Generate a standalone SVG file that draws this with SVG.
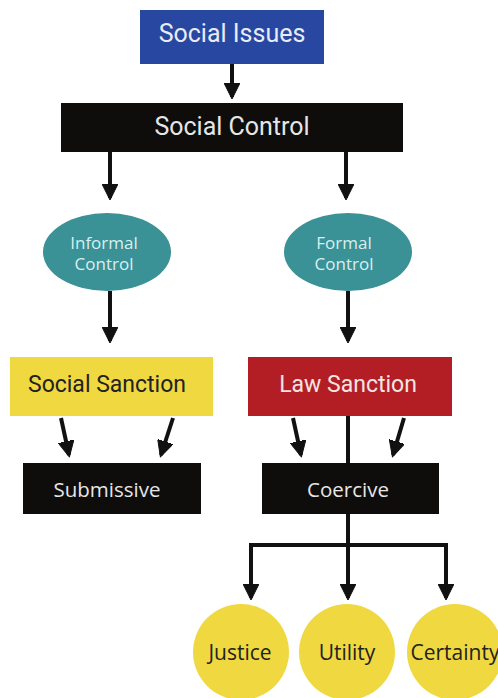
<svg xmlns="http://www.w3.org/2000/svg" width="498" height="698" viewBox="0 0 498 698">
<style>
.t1{font-family:Roboto,"Liberation Sans",sans-serif;text-anchor:middle;dominant-baseline:central}
.t2{font-family:"Open Sans","Liberation Sans",sans-serif;text-anchor:middle;dominant-baseline:central}
.ln{stroke:#111;stroke-width:4;fill:none}
</style>
<defs>
<marker id="ah" markerUnits="userSpaceOnUse" markerWidth="20" markerHeight="16" viewBox="0 0 20 16" refX="14" refY="8" orient="auto">
<path d="M0,0 L16,8 L0,16 Z" fill="#111" stroke="#111" stroke-width="1" stroke-linejoin="round"/>
</marker>
</defs>
<rect width="498" height="698" fill="#fff"/>
<g id="connectors">
<line class="ln" x1="232" y1="64" x2="232" y2="97" marker-end="url(#ah)"/>
<line class="ln" x1="110" y1="152" x2="110" y2="198" marker-end="url(#ah)"/>
<line class="ln" x1="346" y1="152" x2="346" y2="198" marker-end="url(#ah)"/>
<line class="ln" x1="110" y1="291" x2="110" y2="341" marker-end="url(#ah)"/>
<line class="ln" x1="348" y1="291" x2="348" y2="341" marker-end="url(#ah)"/>
<line class="ln" x1="61" y1="418" x2="69" y2="455" marker-end="url(#ah)"/>
<line class="ln" x1="173" y1="418" x2="161" y2="455" marker-end="url(#ah)"/>
<line class="ln" x1="293" y1="418" x2="301" y2="455" marker-end="url(#ah)"/>
<line class="ln" x1="404" y1="418" x2="393" y2="455" marker-end="url(#ah)"/>
<line class="ln" x1="348" y1="416" x2="348" y2="463"/>
<line class="ln" x1="348" y1="514" x2="348" y2="598" marker-end="url(#ah)"/>
<polyline class="ln" points="251,562 251,545 446,545 446,562"/>
<line class="ln" x1="251" y1="560" x2="251" y2="598" marker-end="url(#ah)"/>
<line class="ln" x1="446" y1="560" x2="446" y2="598" marker-end="url(#ah)"/>
</g>
<g id="social-issues">
<rect x="140" y="10" width="184" height="54" fill="#2847a0"/>
<text class="t1" x="232" y="33" font-size="25" fill="#e8ecf8">Social Issues</text>
</g>
<g id="social-control">
<rect x="61" y="103" width="342" height="49" fill="#0e0d0c"/>
<text class="t1" x="232" y="126" font-size="25" fill="#e6e6e6">Social Control</text>
</g>
<g id="informal-control">
<ellipse cx="107" cy="252" rx="64" ry="39" fill="#3a9196"/>
<text class="t2" font-size="17" fill="#d8f0ee"><tspan x="104" y="242">Informal</tspan><tspan x="104" y="263">Control</tspan></text>
</g>
<g id="formal-control">
<ellipse cx="348" cy="252" rx="64" ry="39" fill="#3a9196"/>
<text class="t2" font-size="17" fill="#d8f0ee"><tspan x="344" y="242">Formal</tspan><tspan x="344" y="263">Control</tspan></text>
</g>
<g id="social-sanction">
<rect x="10" y="357" width="203" height="59" fill="#f0d840"/>
<text class="t1" x="107" y="384" font-size="23" fill="#222">Social Sanction</text>
</g>
<g id="law-sanction">
<rect x="248" y="357" width="204" height="59" fill="#b31e25"/>
<text class="t1" x="348" y="384" font-size="23" fill="#f4e4e4">Law Sanction</text>
</g>
<g id="submissive">
<rect x="23" y="463" width="178" height="51" fill="#0e0d0c"/>
<text class="t2" x="107" y="489" font-size="20.5" fill="#e6e6e6">Submissive</text>
</g>
<g id="coercive">
<rect x="262" y="463" width="177" height="51" fill="#0e0d0c"/>
<text class="t2" x="348" y="489" font-size="20.5" fill="#e6e6e6">Coercive</text>
</g>
<g id="justice">
<circle cx="241" cy="652" r="48" fill="#f0d840"/>
<text class="t2" x="240" y="652" font-size="21" fill="#222">Justice</text>
</g>
<g id="utility">
<circle cx="347" cy="652" r="48" fill="#f0d840"/>
<text class="t2" x="347" y="652" font-size="21" fill="#222">Utility</text>
</g>
<g id="certainty">
<circle cx="455" cy="652" r="48" fill="#f0d840"/>
<text class="t2" x="455" y="652" font-size="21" fill="#222">Certainty</text>
</g>
</svg>
